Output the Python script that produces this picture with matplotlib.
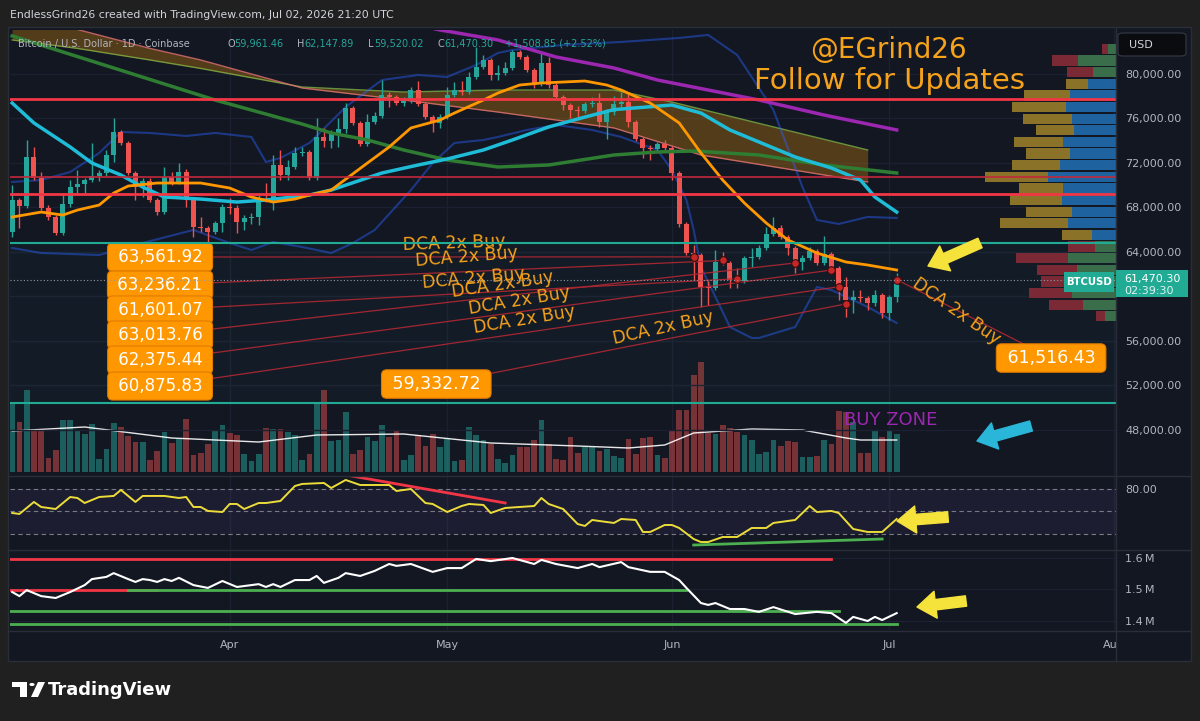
import numpy as np
import matplotlib.pyplot as plt
from matplotlib.patches import Rectangle, FancyBboxPatch, FancyArrowPatch, Polygon, Circle
from matplotlib.lines import Line2D
from matplotlib.transforms import blended_transform_factory

W, H = 1200, 721

# ---------------- data ----------------
# BTCUSD daily candles, bar 1 = Mar 02 ... bar 123 = Jul 02
first_open = 65800
closes = [68670, 68130, 72540, 70650, 67950, 67140, 65710, 68310, 69840, 70110,
          70470, 70830, 71100, 72720, 74790, 73800, 71100, 69840, 70380, 68670,
          67590, 70740, 70290, 71190, 68670, 66250, 66160, 65800, 66600, 68040,
          67980, 66700, 67050, 67140, 68760, 68700, 71820, 70920, 71640, 72900,
          72990, 70650, 74340, 73980, 74700, 75060, 76940, 75600, 73710, 75690,
          76220, 78110, 77930, 77390, 77570, 78560, 77300, 76130, 75600, 76130,
          78110, 78560, 78380, 79730, 80630, 81260, 79910, 80090, 80540, 81980,
          81530, 80360, 79100, 80990, 79010, 77930, 77210, 76760, 76670, 77300,
          77390, 75690, 76580, 77300, 77450, 75690, 74160, 73350, 73260, 73710,
          73350, 71100, 66520, 63910, 63730, 60850, 60760, 63100, 63010, 61480,
          61390, 63460, 63550, 64360, 65620, 66160, 65350, 64360, 63100, 63460,
          64090, 63010, 63820, 62560, 60850, 59680, 59950, 59860, 59410, 60130,
          58510, 59961.46, 61470.30]
upper_wick = [1350, 200, 1530, 900, 540, 270, 200, 990, 630, 1260,
              200, 3000, 250, 450, 1260, 150, 200, 200, 300, 300,
              200, 900, 450, 800, 250, 200, 900, 200, 200, 270,
              800, 200, 270, 360, 360, 1440, 900, 1350, 630, 540,
              450, 200, 1700, 800, 300, 1000, 450, 200, 200, 700,
              360, 1350, 270, 200, 360, 270, 800, 200, 200, 300,
              720, 720, 800, 450, 1800, 450, 200, 720, 540, 200,
              200, 200, 200, 900, 540, 200, 200, 200, 360, 200,
              540, 900, 300, 720, 900, 800, 200, 200, 300, 200,
              360, 200, 200, 200, 720, 200, 540, 1080, 900, 200,
              1080, 200, 800, 300, 630, 1000, 270, 200, 200, 300,
              360, 200, 1600, 200, 200, 900, 630, 630, 200, 450,
              200, 200, 677]
lower_wick = [450, 2000, 200, 200, 200, 270, 200, 200, 270, 540,
              800, 200, 450, 300, 630, 200, 200, 1170, 900, 200,
              270, 200, 300, 200, 630, 900, 360, 1000, 200, 800,
              540, 1000, 720, 540, 720, 200, 900, 450, 450, 200,
              300, 200, 200, 540, 630, 1260, 360, 200, 200, 200,
              200, 200, 900, 200, 300, 200, 200, 200, 800, 450,
              200, 200, 300, 200, 200, 200, 450, 450, 200, 200,
              200, 200, 360, 200, 270, 200, 450, 720, 630, 200,
              300, 450, 1500, 300, 300, 450, 200, 900, 1000, 300,
              200, 630, 270, 200, 2250, 1800, 1500, 200, 200, 720,
              630, 200, 800, 200, 200, 200, 200, 630, 1000, 720,
              200, 200, 200, 300, 1170, 1530, 1170, 360, 630, 300,
              450, 630, 441]
volume = [68, 50, 82, 42, 42, 14, 22, 52, 52, 42,
          38, 48, 13, 23, 49, 45, 36, 30, 30, 12,
          21, 40, 29, 33, 53, 17, 19, 28, 42, 47,
          39, 37, 18, 11, 18, 44, 43, 43, 40, 37,
          12, 18, 68, 82, 31, 32, 60, 18, 22, 35,
          31, 47, 35, 41, 12, 17, 37, 26, 38, 25,
          34, 11, 12, 45, 37, 32, 28, 13, 9, 17,
          25, 25, 32, 52, 28, 13, 12, 35, 19, 25,
          25, 21, 23, 16, 14, 33, 18, 34, 35, 17,
          14, 42, 62, 62, 97, 110, 39, 38, 47, 44,
          40, 37, 32, 18, 20, 32, 26, 31, 30, 15,
          15, 16, 32, 28, 61, 60, 50, 19, 19, 42,
          35, 42, 38]
vol_ma_days = [1, 11, 23, 35, 43, 55, 67, 79, 86, 91, 95, 103, 110, 116, 118, 123]
vol_ma = [41, 45, 34, 30, 37, 38, 29, 26, 24, 27, 39, 43, 42, 34, 32, 32]

# Bollinger basis (orange) and bands
bb_mid_days = [1, 5, 8, 10, 13, 15, 17, 21, 27, 31, 34, 37, 40, 42, 45, 50, 53, 56, 60, 62,
               66, 68, 71, 74, 80, 83, 85, 89, 93, 96, 99, 102, 105, 108, 112, 116, 119, 123]
bb_mid = [67140, 67590, 67320, 67770, 68220, 69300, 69930, 70200, 70200, 69750,
          68940, 68490, 68760, 69120, 69570, 72000, 73440, 75150, 75860, 76490,
          77660, 78290, 79010, 79190, 79370, 79010, 78560, 77390, 75600, 72900,
          70470, 68400, 66610, 65080, 63910, 63100, 62830, 62380]
bb_up_days = [1, 5, 9, 13, 16, 20, 25, 29, 34, 36, 38, 42, 47, 52, 57, 61, 65, 68, 70, 77,
              85, 93, 97, 101, 106, 110, 112, 115, 119, 123]
bb_up = [70290, 70470, 71190, 72900, 74790, 74700, 74430, 74700, 74340, 72090,
         72450, 73800, 77030, 79460, 79910, 79730, 80810, 81890, 82160, 82610,
         82880, 83240, 83510, 81710, 76760, 69840, 66880, 66520, 67150, 67060]
bb_lo_days = [1, 5, 13, 19, 26, 31, 34, 37, 41, 45, 48, 51, 56, 59, 62, 66, 68, 72, 76, 81,
              85, 90, 92, 94, 95, 96, 98, 100, 103, 104, 109, 112, 114, 119, 123]
bb_lo = [64360, 63910, 63730, 64810, 65980, 64810, 64180, 64900, 64450, 63910,
         64810, 65980, 69570, 72000, 73800, 74070, 74340, 74970, 75420, 74970,
         74340, 73170, 71370, 68670, 65980, 62650, 59960, 57260, 56270, 56270,
         57260, 60850, 60580, 59060, 57620]
ma_cyan_days = [1, 4, 9, 12, 16, 19, 22, 27, 32, 36, 42, 45, 52, 57, 61, 66, 70, 75, 80, 84,
                92, 96, 100, 105, 109, 114, 118, 120, 123]
ma_cyan = [77390, 75600, 73440, 72000, 70920, 69840, 68940, 68760, 68490, 68670,
           69120, 69570, 71100, 71820, 72360, 73170, 74070, 75240, 76130, 76800,
           77210, 76490, 74970, 73620, 72540, 71550, 70470, 68940, 67590]
ma_green_days = [1, 29, 41, 45, 50, 55, 61, 68, 75, 84, 90, 95, 104, 113, 123]
ma_green = [83420, 77660, 75500, 74700, 74070, 73170, 72270, 71640, 71820, 72720,
            72990, 73080, 72720, 71820, 71100]
ma_purple_days = [57, 60, 68, 76, 84, 90, 104, 113, 123]
ma_purple = [84400, 83960, 83060, 81530, 80540, 79460, 77660, 76310, 74970]
cloud_days = [1, 10, 20, 27, 41, 55, 68, 84, 92, 96, 119]
cloud_top = [83060, 82300, 81260, 80500, 78830, 78380, 78560, 78560, 77480, 76840, 73170]
cloud_bot = [86000, 84000, 82300, 81260, 78740, 77660, 76580, 75150, 73530, 72720, 70290]

# horizontal levels
lvl_red_thick = [77750, 69210]
lvl_red_thin = [70740]
lvl_teal = [64810, 50420]

# DCA points
dca_prices = [63561.92, 63236.21, 61601.07, 63013.76, 62375.44, 60875.83, 59332.72, 61516.43]
dca_bars = [95, 99, 101, 109, 114, 115, 116, 123]

# visible range volume profile, rows from 82.25k down
vp_up = [8, 38, 23, 28, 46, 50, 44, 42, 53, 46, 56, 68, 53, 54, 44, 48, 24, 21, 48, 39, 44, 44, 33, 11]
vp_down = [6, 26, 26, 22, 46, 54, 49, 38, 49, 44, 48, 63, 44, 52, 46, 68, 30, 27, 52, 40, 31, 43, 34, 9]

# RSI
rsi_days = [1, 2, 4, 5, 7, 9, 10, 11, 13, 15, 16, 18, 19, 22, 24, 25, 26, 27, 28, 30,
            31, 32, 33, 35, 36, 38, 40, 41, 44, 45, 47, 49, 53, 54, 56, 58, 59, 61, 63, 64,
            66, 67, 69, 73, 74, 75, 77, 79, 80, 81, 82, 84, 85, 87, 88, 89, 91, 92, 93, 95,
            96, 97, 99, 101, 103, 105, 106, 109, 111, 112, 114, 115, 117, 119, 121, 123]
rsi = [48, 46.7, 62.7, 56, 53.3, 69.3, 68, 61.3, 69.3, 70.7, 78.7, 62.7, 70.7, 70.7, 68, 69.3, 56, 56, 50.7, 49.3,
       60, 60, 53.3, 61.3, 61.3, 64, 84, 86.7, 88, 81.3, 92, 85.3, 85.3, 77.3, 80, 61.3, 60, 49.3, 57.3, 60,
       58.7, 48, 54.7, 57.3, 68, 60, 53.3, 33.3, 30.7, 38.7, 37.3, 34.7, 40, 38.7, 22.7, 22.7, 32, 32, 28, 13.3,
       9.3, 9.3, 16, 16, 28, 28, 34.7, 38.7, 57.3, 49.3, 50.7, 48, 26.7, 22.7, 22.7, 40]
rsi_red_days, rsi_red = [47, 69], [98.7, 61.3]
rsi_green_days, rsi_green = [95, 121], [5.3, 13.3]

# OBV (millions)
obv_days = [1, 2, 3, 5, 7, 9, 11, 12, 14, 15, 17, 18, 19, 20, 21, 22, 23, 24, 26, 28,
            30, 32, 35, 36, 37, 38, 40, 42, 43, 44, 46, 47, 49, 51, 53, 54, 56, 59, 61, 63,
            65, 67, 70, 73, 74, 76, 79, 81, 82, 85, 86, 89, 91, 93, 94, 96, 97, 98, 100, 102,
            104, 106, 109, 112, 114, 116, 117, 119, 120, 121, 123]
obv = [1.492, 1.479, 1.498, 1.479, 1.473, 1.492, 1.514, 1.533, 1.540, 1.552,
       1.533, 1.524, 1.533, 1.530, 1.524, 1.533, 1.527, 1.537, 1.514, 1.505,
       1.527, 1.508, 1.517, 1.508, 1.517, 1.508, 1.530, 1.530, 1.543, 1.521,
       1.537, 1.552, 1.543, 1.559, 1.581, 1.575, 1.581, 1.556, 1.568, 1.568,
       1.597, 1.590, 1.600, 1.581, 1.594, 1.581, 1.568, 1.581, 1.571, 1.587,
       1.571, 1.556, 1.556, 1.530, 1.505, 1.457, 1.451, 1.457, 1.438, 1.438,
       1.429, 1.444, 1.422, 1.429, 1.425, 1.394, 1.413, 1.400, 1.413, 1.403, 1.425]
obv_lvl = [1.597, 1.498, 1.498, 1.432, 1.390]
obv_lvl_from = [0, 0, 17, 0, 0]
obv_lvl_to = [114, 21, 94, 115, 123]
obv_lvl_red = [True, True, False, False, False]

month_days = [31, 61, 92, 122, 153]
month_labels = ['Apr', 'May', 'Jun', 'Jul', 'Aug']
price_ticks = [48000, 52000, 56000, 64000, 68000, 72000, 76000, 80000]

# ---------------- style ----------------
PANE = '#131722'
GRID = '#1c2030'
SEP = '#2a2e39'
UP, DN = '#26a69a', '#ef5350'
TXT = '#b2b5be'
ORANGE = '#f7a21b'
XMIN, XMAX = 0.7, 0.7 + 1106 / 7.25


def fx(x):
    return x / W


def fy(y):
    return 1 - y / H


def prect(x0, y0, x1, y1):
    return [fx(x0), fy(y1), (x1 - x0) / W, (y1 - y0) / H]


fig = plt.figure(figsize=(W / 100, H / 100), dpi=100)
fig.patch.set_facecolor('#202020')
fig.add_artist(Rectangle((fx(8), fy(661)), (1191 - 8) / W, (661 - 27) / H, transform=fig.transFigure,
                         fc=PANE, ec=SEP, lw=1, zorder=-5))

ax_vol = fig.add_axes(prect(10, 30, 1116, 475))
ax = fig.add_axes(prect(10, 30, 1116, 475), sharex=ax_vol)
ax_vp = ax.twiny()
ax_rsi = fig.add_axes(prect(10, 476, 1116, 549), sharex=ax_vol)
ax_obv = fig.add_axes(prect(10, 550, 1116, 630), sharex=ax_vol)
ax_t = fig.add_axes(prect(10, 631, 1116, 660), sharex=ax_vol)

for a in (ax_vol, ax, ax_vp, ax_rsi, ax_obv, ax_t):
    a.set_facecolor('none')
    for s in a.spines.values():
        s.set_visible(False)
    a.tick_params(axis='x', bottom=False, labelbottom=False, top=False, labeltop=False)
ax_vol.set_axis_off()
ax_t.set_axis_off()

bars = np.arange(1, len(closes) + 1)
c = np.array(closes, dtype=float)
o = np.r_[first_open, c[:-1]]
up = c >= o
hi = np.maximum(o, c) + np.array(upper_wick)
lo = np.minimum(o, c) - np.array(lower_wick)
col = np.where(up, UP, DN)

# volume (bottom layer)
ax_vol.bar(bars[up], np.array(volume)[up], width=0.8, color=UP, alpha=0.5, lw=0)
ax_vol.bar(bars[~up], np.array(volume)[~up], width=0.8, color=DN, alpha=0.45, lw=0)
ax_vol.plot(vol_ma_days, vol_ma, color='white', lw=1, alpha=0.9)
ax_vol.set_ylim(-3, 442)
for m in month_days:
    for a in (ax_vol, ax_rsi, ax_obv):
        a.axvline(m, color=GRID, lw=1, zorder=0)

# price pane
for p in price_ticks + [60000]:
    ax.axhline(p, color=GRID, lw=1, zorder=0)
ax.axhspan(lvl_teal[1], lvl_teal[0], color='#22ab94', alpha=0.04, zorder=0)
ax.fill_between(cloud_days, cloud_bot, cloud_top, color='#a36b12', alpha=0.45, lw=0, zorder=1)
ax.plot(cloud_days, cloud_top, color='#8bc34a', lw=1, alpha=0.7, zorder=1)
ax.plot(cloud_days, cloud_bot, color='#e57373', lw=1, alpha=0.8, zorder=1)
ax.plot(bb_up_days, bb_up, color='#2962ff', alpha=0.45, lw=1.5, zorder=2)
ax.plot(bb_lo_days, bb_lo, color='#2962ff', alpha=0.45, lw=1.5, zorder=2)

ax.vlines(bars, lo, hi, colors=col, lw=1, zorder=4)
body = c - o
body = np.where(np.abs(body) < 90, np.where(up, 90, -90), body)
ax.bar(bars, body, bottom=o, width=0.68, color=col, lw=0, zorder=5)

ax.plot(ma_green_days, ma_green, color='#2e7d32', lw=2.5, zorder=6)
ax.plot(ma_purple_days, ma_purple, color='#9c27b0', lw=2.5, zorder=6)
ax.plot(ma_cyan_days, ma_cyan, color='#1fbcd8', lw=2.5, zorder=6)
ax.plot(bb_mid_days, bb_mid, color='#ff9800', lw=2, zorder=6)

# DCA notes
left_lbl_y = [63550, 61030, 58790, 56540, 54290, 51950]
lbl_pos = [(21.4, y) for y in left_lbl_y] + [(59.5, 52130), (144.3, 54470)]
for (lx, ly), b, p in zip(lbl_pos, dca_bars, dca_prices):
    ax.plot([lx, b], [ly, p], color='#b22833', lw=0.9, alpha=0.9, zorder=7)
    ax.plot(b, p, 'o', ms=5.5, mfc='#c62828', mec='#3a0c0c', mew=0.8, zorder=9)
for k, ((lx, ly), p) in enumerate(zip(lbl_pos, dca_prices)):
    ax.text(lx, ly, f' {p:,.2f} ', color='white', fontsize=12 if k < 6 else 12.5,
            ha='center', va='center', zorder=10,
            bbox=dict(boxstyle='round,pad=0.3,rounding_size=0.3', fc='#ff9800', ec='#e07b00', lw=0.8))
dca_text = [(61.9, 64810, 2), (63.7, 63550, 4.6), (64.6, 61570, 5), (68.6, 61030, 8.4),
            (71.0, 59600, 9.3), (71.6, 57890, 9.3), (90.8, 57170, 12.6), (131.2, 58700, -35)]
for tx, ty, rot in dca_text:
    ax.text(tx, ty, 'DCA 2x Buy', color=ORANGE, fontsize=12.5, rotation=rot, rotation_mode='anchor',
            ha='center', va='center', zorder=11)
ax.text(122.2, 48900, 'BUY ZONE', color='#9c27b0', fontsize=13, ha='center', va='center', zorder=11)

ax.set_ylim(43954, 83955)
ax.yaxis.tick_right()
ax.set_yticks(price_ticks)
ax.set_yticklabels([f'{v:,.2f}' for v in price_ticks])
ax.tick_params(axis='y', length=0, pad=6.5, labelsize=8, labelcolor=TXT)

# volume profile + drawn levels on top
vp_levels = 82250 - 1045 * np.arange(len(vp_up))
in_va = (np.arange(len(vp_up)) >= 3) & (np.arange(len(vp_up)) <= 16)
up_c = np.where(in_va, '#1f62a0', '#3a6e4b')
dn_c = np.where(in_va, '#8a7228', '#7a2935')
ax_vp.barh(vp_levels, vp_up, height=1045 * 0.88, left=0, color=up_c, lw=0)
ax_vp.barh(vp_levels, vp_down, height=1045 * 0.88, left=vp_up, color=dn_c, lw=0)
for p in lvl_red_thick:
    ax_vp.axhline(p, color='#f23645', lw=2)
for p in lvl_red_thin:
    ax_vp.axhline(p, color='#c2283a', lw=1.2)
for p in lvl_teal:
    ax_vp.axhline(p, color='#22ab94', lw=1.5)
ax_vp.axhline(closes[-1], color='#9598a1', lw=0.8, ls=(0, (1, 2)))
ax_vp.set_xlim(1106, 0)
ax_vp.set_xticks([])
ax.set_ylim(43954, 83955)

# RSI pane
ax_rsi.axhspan(20, 80, color='#7e57c2', alpha=0.1, lw=0)
for v in (80, 50, 20):
    ax_rsi.axhline(v, color='#787b86', lw=0.8, ls=(0, (4, 3)))
ax_rsi.plot(rsi_days, rsi, color='#ecdc3a', lw=1.4)
ax_rsi.plot(rsi_red_days, rsi_red, color='#f23645', lw=2)
ax_rsi.plot(rsi_green_days, rsi_green, color='#4caf50', lw=2)
ax_rsi.set_ylim(0, 97.3)
ax_rsi.yaxis.tick_right()
ax_rsi.set_yticks([80])
ax_rsi.set_yticklabels(['80.00'])
ax_rsi.tick_params(axis='y', length=0, pad=6.5, labelsize=8, labelcolor=TXT)

# OBV pane
for v in (1.4, 1.5, 1.6):
    ax_obv.axhline(v, color=GRID, lw=1, zorder=0)
for v, a0, a1, red in zip(obv_lvl, obv_lvl_from, obv_lvl_to, obv_lvl_red):
    ax_obv.plot([a0, a1], [v, v], color='#f23645' if red else '#4caf50', lw=2)
ax_obv.plot(obv_days, obv, color='white', lw=1.5)
ax_obv.set_ylim(1.3714, 1.6254)
ax_obv.yaxis.tick_right()
ax_obv.set_yticks([1.4, 1.5, 1.6])
ax_obv.set_yticklabels(['1.4\u2009M', '1.5\u2009M', '1.6\u2009M'])
ax_obv.tick_params(axis='y', length=0, pad=6.5, labelsize=8, labelcolor=TXT)

# time axis
tb = blended_transform_factory(ax_t.transData, ax_t.transAxes)
for m, lab in zip(month_days, month_labels):
    ax_t.text(m, 0.5, lab, transform=tb, ha='center', va='center', color=TXT, fontsize=8, clip_on=True)

ax_vol.set_xlim(XMIN, XMAX)

# separators
for yy in (475.5, 549.5, 630.5):
    fig.add_artist(Line2D([fx(8), fx(1191)], [fy(yy)] * 2, transform=fig.transFigure, color=SEP, lw=1))
fig.add_artist(Line2D([fx(1116)] * 2, [fy(28), fy(661)], transform=fig.transFigure, color=SEP, lw=1))

# price tags
bt = blended_transform_factory(fig.transFigure, ax.transData)
last = closes[-1]
fig.add_artist(Rectangle((fx(1116), last - 1474), 72 / W, 2427, transform=bt, fc='#22ab94', ec='none', zorder=5))
fig.text(fx(1124), last + 140, f'{last:,.2f}', transform=bt, color='white', fontsize=8, va='center', zorder=6)
fig.text(fx(1124), last - 935, '02:39:30', transform=bt, color='#e0f2f1', fontsize=8, va='center', zorder=6)
fig.add_artist(Rectangle((fx(1064), last - 1025), 50 / W, 1798, transform=bt, fc='#22ab94', ec='none', zorder=5))
fig.text(fx(1089), last - 125, 'BTCUSD', transform=bt, color='white', fontsize=7.3, fontweight='bold',
         ha='center', va='center', zorder=6)

fig.add_artist(FancyBboxPatch((fx(1118), fy(56)), 68 / W, 23 / H, boxstyle='round,pad=0,rounding_size=0.004',
                              transform=fig.transFigure, fc='#0b0c10', ec='#363a45', lw=0.8, zorder=5))
fig.text(fx(1129), fy(45), 'USD', color='#d1d4dc', fontsize=8, va='center', zorder=6)

# header
fig.text(fx(10), fy(15), 'EndlessGrind26 created with TradingView.com, Jul 02, 2026 21:20 UTC',
         color='#d1d4dc', fontsize=7.8, va='center')
legend_items = [('Bitcoin / U.S. Dollar \u00b7 1D \u00b7 Coinbase', 18, TXT), ('O', 227, TXT),
                ('59,961.46', 234, UP), ('H', 297, TXT), ('62,147.89', 304, UP), ('L', 368, TXT),
                ('59,520.02', 374, UP), ('C', 437, TXT), ('61,470.30', 444, UP),
                ('+1,508.85 (+2.52%)', 505, UP)]
for s, x, cc in legend_items:
    fig.text(fx(x), fy(44), s, color=cc, fontsize=7, va='center', zorder=6)

fig.text(fx(888), fy(50), '@EGrind26', color=ORANGE, fontsize=20, ha='center', va='center', zorder=6)
fig.text(fx(889), fy(81), 'Follow for Updates', color=ORANGE, fontsize=21, ha='center', va='center', zorder=6)

# hand-drawn arrows
arrows = [((980, 243), (928, 266), '#f5e33b'), ((1031, 426), (977, 441), '#29b6d8'),
          ((948, 517), (897, 521), '#f5e33b'), ((966, 601), (917, 607), '#f5e33b')]
for (x0, y0), (x1, y1), cc in arrows:
    fig.add_artist(FancyArrowPatch((fx(x0), fy(y0)), (fx(x1), fy(y1)), transform=fig.transFigure,
                                   arrowstyle='simple,head_length=0.9,head_width=1.3,tail_width=0.5',
                                   mutation_scale=15, color=cc, shrinkA=0, shrinkB=0, zorder=7))

# TradingView brand
for r in [(12, 682, 27, 687), (20, 682, 27, 697)]:
    fig.add_artist(Rectangle((fx(r[0]), fy(r[3])), (r[2] - r[0]) / W, (r[3] - r[1]) / H,
                             transform=fig.transFigure, fc='white', ec='none'))
fig.add_artist(Circle((fx(32), fy(684.5)), 2.6 / W, transform=fig.transFigure, fc='white', ec='none'))
fig.add_artist(Polygon([(fx(38), fy(682)), (fx(45), fy(682)), (fx(38), fy(697)), (fx(31), fy(697))],
                       closed=True, transform=fig.transFigure, fc='white', ec='none'))
fig.text(fx(48), fy(690), 'TradingView', color='white', fontsize=13, fontweight='bold', va='center')

fig.savefig('out.png', dpi=100, facecolor=fig.get_facecolor())
